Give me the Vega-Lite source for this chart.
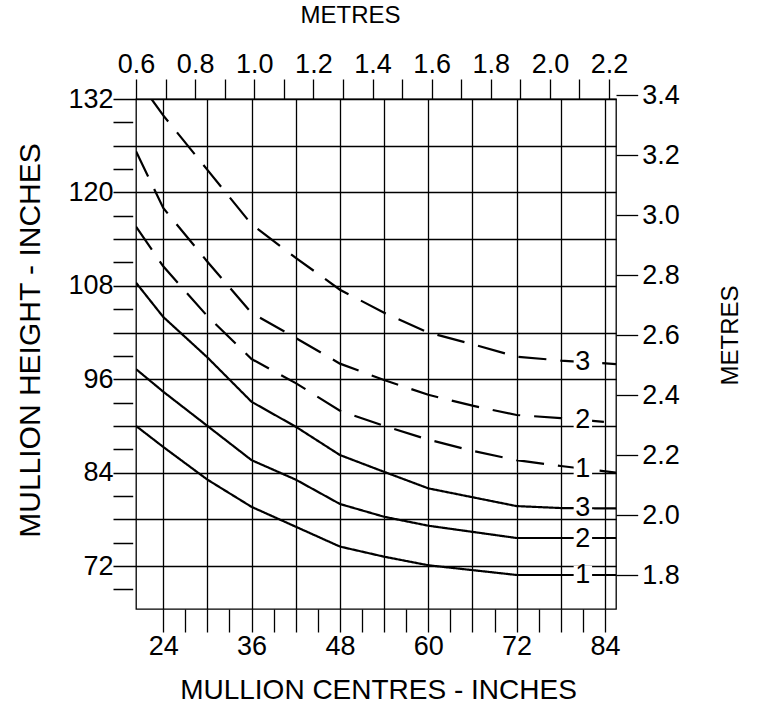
{
  "$schema": "https://vega.github.io/schema/vega-lite/v6.json",
  "width": 480,
  "height": 510,
  "autosize": {"type": "none"},
  "padding": {"left": 136, "top": 99, "right": 159, "bottom": 98},
  "background": "white",
  "config": {
    "view": {"stroke": "black", "strokeWidth": 1.3},
    "font": "Liberation Sans",
    "axis": {
      "domain": false,
      "labelFont": "Liberation Sans",
      "titleFont": "Liberation Sans",
      "labelFontSize": 27,
      "titleFontSize": 27,
      "titleFontWeight": "normal",
      "labelColor": "black",
      "titleColor": "black",
      "tickColor": "black",
      "gridColor": "black",
      "tickWidth": 1.3,
      "gridWidth": 1.3,
      "tickCount": 1000,
      "labelOverlap": false,
      "labelFlush": false,
      "labelBound": false
    }
  },
  "datasets": {
    "curves": [
      {"set": "A", "curve": "1", "x": 20.3, "y": 90.0},
      {"set": "A", "curve": "1", "x": 24, "y": 87.3},
      {"set": "A", "curve": "1", "x": 30, "y": 83.1},
      {"set": "A", "curve": "1", "x": 36, "y": 79.6},
      {"set": "A", "curve": "1", "x": 48, "y": 74.5},
      {"set": "A", "curve": "1", "x": 54, "y": 73.2},
      {"set": "A", "curve": "1", "x": 60, "y": 72.1},
      {"set": "A", "curve": "1", "x": 72, "y": 70.85},
      {"set": "A", "curve": "1", "x": 85.5, "y": 70.85},
      {"set": "A", "curve": "2", "x": 20.3, "y": 97.3},
      {"set": "A", "curve": "2", "x": 24, "y": 94.4},
      {"set": "A", "curve": "2", "x": 30, "y": 90.0},
      {"set": "A", "curve": "2", "x": 36, "y": 85.6},
      {"set": "A", "curve": "2", "x": 42, "y": 83.1},
      {"set": "A", "curve": "2", "x": 48, "y": 79.97},
      {"set": "A", "curve": "2", "x": 54, "y": 78.33},
      {"set": "A", "curve": "2", "x": 60, "y": 77.18},
      {"set": "A", "curve": "2", "x": 72, "y": 75.6},
      {"set": "A", "curve": "2", "x": 85.5, "y": 75.6},
      {"set": "A", "curve": "3", "x": 20.3, "y": 108.4},
      {"set": "A", "curve": "3", "x": 24, "y": 104.0},
      {"set": "A", "curve": "3", "x": 30, "y": 98.8},
      {"set": "A", "curve": "3", "x": 36, "y": 93.1},
      {"set": "A", "curve": "3", "x": 42, "y": 89.9},
      {"set": "A", "curve": "3", "x": 48, "y": 86.26},
      {"set": "A", "curve": "3", "x": 54, "y": 84.1},
      {"set": "A", "curve": "3", "x": 60, "y": 81.98},
      {"set": "A", "curve": "3", "x": 72, "y": 79.7},
      {"set": "A", "curve": "3", "x": 78, "y": 79.45},
      {"set": "A", "curve": "3", "x": 85.5, "y": 79.4},
      {"set": "B", "curve": "1", "x": 20.3, "y": 115.6},
      {"set": "B", "curve": "1", "x": 24, "y": 110.5},
      {"set": "B", "curve": "1", "x": 30, "y": 104.1},
      {"set": "B", "curve": "1", "x": 36, "y": 98.6},
      {"set": "B", "curve": "1", "x": 42, "y": 95.5},
      {"set": "B", "curve": "1", "x": 48, "y": 91.95},
      {"set": "B", "curve": "1", "x": 54, "y": 90.0},
      {"set": "B", "curve": "1", "x": 60, "y": 88.24},
      {"set": "B", "curve": "1", "x": 66, "y": 86.8},
      {"set": "B", "curve": "1", "x": 72, "y": 85.6},
      {"set": "B", "curve": "1", "x": 78, "y": 84.85},
      {"set": "B", "curve": "1", "x": 85.5, "y": 84.0},
      {"set": "B", "curve": "2", "x": 20.3, "y": 125.3},
      {"set": "B", "curve": "2", "x": 24, "y": 118.0},
      {"set": "B", "curve": "2", "x": 30, "y": 111.1},
      {"set": "B", "curve": "2", "x": 36, "y": 104.5},
      {"set": "B", "curve": "2", "x": 42, "y": 101.3},
      {"set": "B", "curve": "2", "x": 48, "y": 98.0},
      {"set": "B", "curve": "2", "x": 54, "y": 95.9},
      {"set": "B", "curve": "2", "x": 60, "y": 94.0},
      {"set": "B", "curve": "2", "x": 66, "y": 92.6},
      {"set": "B", "curve": "2", "x": 72, "y": 91.4},
      {"set": "B", "curve": "2", "x": 78, "y": 91.0},
      {"set": "B", "curve": "2", "x": 85.5, "y": 90.4},
      {"set": "B", "curve": "3", "x": 22.4, "y": 132.0},
      {"set": "B", "curve": "3", "x": 24, "y": 129.9},
      {"set": "B", "curve": "3", "x": 30, "y": 122.9},
      {"set": "B", "curve": "3", "x": 36, "y": 115.9},
      {"set": "B", "curve": "3", "x": 42, "y": 111.6},
      {"set": "B", "curve": "3", "x": 48, "y": 107.5},
      {"set": "B", "curve": "3", "x": 54, "y": 104.55},
      {"set": "B", "curve": "3", "x": 60, "y": 102.0},
      {"set": "B", "curve": "3", "x": 66, "y": 100.5},
      {"set": "B", "curve": "3", "x": 72, "y": 98.9},
      {"set": "B", "curve": "3", "x": 78, "y": 98.4},
      {"set": "B", "curve": "3", "x": 85.5, "y": 97.95}
    ],
    "labels": [
      {"set": "A", "label": "1", "x": 81, "y": 70.85},
      {"set": "A", "label": "2", "x": 81, "y": 75.5},
      {"set": "A", "label": "3", "x": 81, "y": 79.4},
      {"set": "B", "label": "1", "x": 81, "y": 84.5},
      {"set": "B", "label": "2", "x": 81, "y": 90.8},
      {"set": "B", "label": "3", "x": 81, "y": 98.2}
    ],
    "metres": [
      {"m": 0.6, "h": 1.8},
      {"m": 2.2, "h": 3.4}
    ]
  },
  "layer": [
    {
      "layer": [
        {
          "data": {"name": "curves"},
          "mark": {"type": "line", "color": "black", "strokeWidth": 2.2, "clip": true},
          "encoding": {
            "x": {
              "field": "x",
              "type": "quantitative",
              "scale": {"domain": [20.3, 85.5], "nice": false, "zero": false},
              "axis": {
                "orient": "bottom",
                "values": [24, 27, 30, 33, 36, 39, 42, 45, 48, 51, 54, 57, 60, 63, 66, 69, 72, 75, 78, 81, 84],
                "tickCount": 1000,
                "format": "d",
                "tickSize": 23,
                "grid": true,
                "gridOpacity": {"condition": {"test": "datum.value % 6 === 0", "value": 1}, "value": 0},
                "labelExpr": "datum.value % 12 === 0 ? datum.label : ''",
                "labelPadding": 1,
                "title": "MULLION CENTRES - INCHES",
                "titleFontSize": 28,
                "titleX": 242,
                "titleY": 81,
                "titleBaseline": "middle"
              }
            },
            "y": {
              "field": "y",
              "type": "quantitative",
              "scale": {"domain": [66.48, 132], "nice": false, "zero": false},
              "axis": {
                "orient": "left",
                "values": [69, 72, 75, 78, 81, 84, 87, 90, 93, 96, 99, 102, 105, 108, 111, 114, 117, 120, 123, 126, 129, 132],
                "tickCount": 1000,
                "format": "d",
                "tickSize": 23,
                "tickDash": {"condition": {"test": "datum.value % 6 !== 0", "value": [0, 3.3, 20, 100]}, "value": [1, 0]},
                "grid": true,
                "gridOpacity": {"condition": {"test": "datum.value % 6 === 0", "value": 1}, "value": 0},
                "labelExpr": "datum.value % 12 === 0 ? datum.label : ''",
                "labelPadding": 0,
                "title": "MULLION HEIGHT - INCHES",
                "titleFontSize": 30,
                "titleX": -106,
                "titleY": 241,
                "titleAngle": -90,
                "titleBaseline": "middle"
              }
            },
            "detail": {"field": "curve", "type": "nominal"},
            "strokeDash": {
              "field": "set",
              "type": "nominal",
              "scale": {"domain": ["A", "B"], "range": [[1, 0], [28, 14]]},
              "legend": null
            }
          }
        },
        {
          "data": {"name": "labels"},
          "mark": {"type": "point", "shape": "square", "filled": true, "color": "white", "opacity": 1, "size": 340, "strokeWidth": 0},
          "encoding": {
            "x": {"field": "x", "type": "quantitative"},
            "y": {"field": "y", "type": "quantitative"},
            "detail": {"field": "set", "type": "nominal"}
          }
        },
        {
          "data": {"name": "labels"},
          "mark": {"type": "text", "font": "Liberation Sans", "fontSize": 27, "color": "black", "align": "center", "baseline": "middle"},
          "encoding": {
            "x": {"field": "x", "type": "quantitative"},
            "y": {"field": "y", "type": "quantitative"},
            "text": {"field": "label", "type": "nominal"},
            "detail": {"field": "set", "type": "nominal"}
          }
        }
      ]
    },
    {
      "data": {"name": "metres"},
      "mark": {"type": "point", "opacity": 0},
      "encoding": {
        "x": {
          "field": "m",
          "type": "quantitative",
          "scale": {"domain": [0.6, 2.2236], "nice": false, "zero": false},
          "axis": {
            "orient": "top",
            "values": [0.6, 0.7, 0.8, 0.9, 1.0, 1.1, 1.2, 1.3, 1.4, 1.5, 1.6, 1.7, 1.8, 1.9, 2.0, 2.1, 2.2],
            "tickCount": 1000,
            "tickSize": 20,
            "grid": false,
            "labelExpr": "round(datum.value * 10) % 2 === 0 ? format(datum.value, '.1f') : ''",
            "labelBaseline": "alphabetic",
            "labelPadding": 6.5,
            "title": "METRES",
            "titleFontSize": 24,
            "titleX": 214,
            "titleY": -84,
            "titleBaseline": "middle"
          }
        },
        "y": {
          "field": "h",
          "type": "quantitative",
          "scale": {"domain": [1.6867, 3.4], "range": [510, -4], "nice": false, "zero": false},
          "axis": {
            "orient": "right",
            "values": [1.8, 2.0, 2.2, 2.4, 2.6, 2.8, 3.0, 3.2, 3.4],
            "tickCount": 1000,
            "tickSize": 21.7,
            "format": ".1f",
            "labelPadding": 4,
            "grid": false,
            "title": "METRES",
            "titleFontSize": 24,
            "titleX": 114,
            "titleY": 236,
            "titleAngle": -90,
            "titleBaseline": "middle"
          }
        }
      }
    }
  ],
  "resolve": {
    "scale": {"x": "independent", "y": "independent"},
    "axis": {"x": "independent", "y": "independent"}
  }
}
